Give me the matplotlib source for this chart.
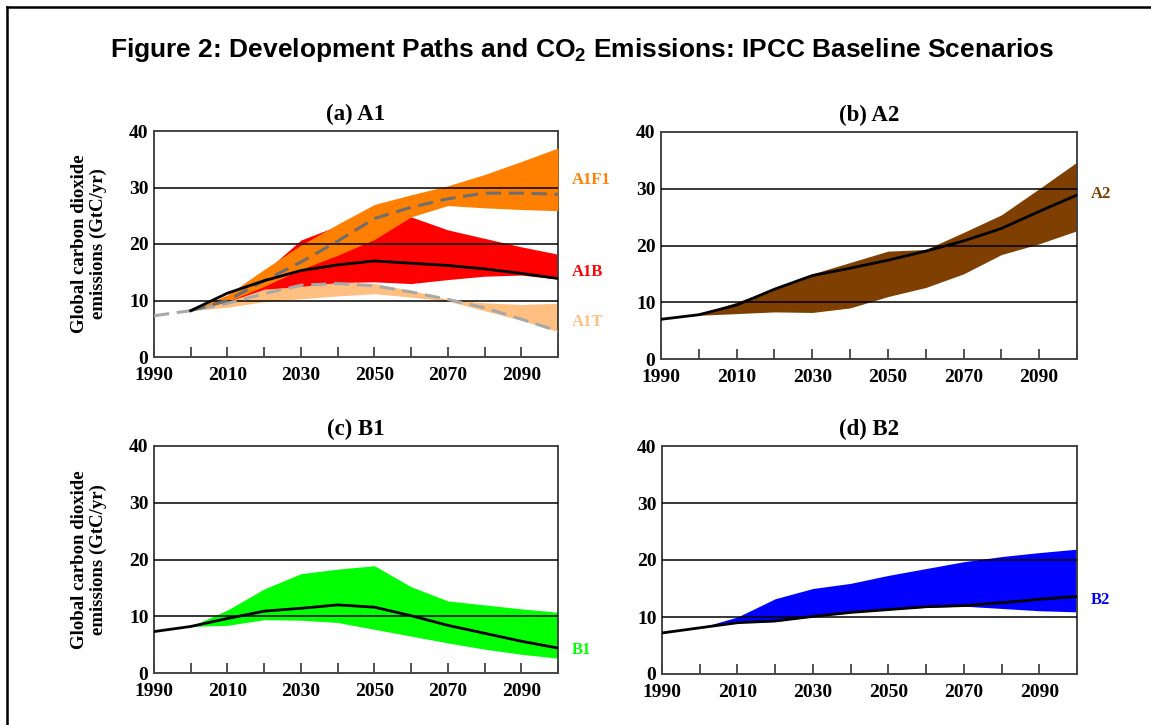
import numpy as np
import matplotlib
matplotlib.use("Agg")
import matplotlib.pyplot as plt
from matplotlib.lines import Line2D

# ---------------- data ----------------
years_line = [1990, 2000, 2010, 2020, 2030, 2040, 2050, 2060, 2070, 2080, 2090, 2100]
years_band = [2000, 2010, 2020, 2030, 2040, 2050, 2060, 2070, 2080, 2090, 2100]

# (a) A1
a1fi_upper = [8.2, 11.0, 15.5, 19.8, 23.5, 27.0, 28.7, 30.3, 32.3, 34.6, 37.0]
a1fi_lower = [8.2, 9.8, 12.5, 15.5, 18.0, 20.8, 24.8, 26.8, 26.4, 26.1, 25.9]
a1b_upper = [8.2, 10.8, 15.0, 20.7, 23.2, 25.0, 24.8, 22.5, 21.0, 19.5, 18.2]
a1b_lower = [8.2, 9.8, 12.0, 12.5, 13.2, 13.3, 13.0, 13.7, 14.3, 14.5, 13.8]
a1t_upper = [8.2, 10.0, 12.0, 13.0, 13.3, 13.0, 11.8, 10.2, 9.6, 9.3, 9.5]
a1t_lower = [8.2, 8.8, 9.8, 10.3, 10.8, 11.2, 10.6, 9.9, 8.2, 6.5, 4.5]
a1fi_line = [8.2, 10.0, 13.5, 16.8, 20.5, 24.5, 26.5, 28.0, 29.0, 29.0, 28.8]
a1t_line = [7.3, 8.2, 9.5, 11.2, 12.7, 13.0, 12.6, 11.5, 10.2, 8.7, 6.7, 4.6]
a1b_line = [8.2, 11.3, 13.5, 15.3, 16.3, 17.0, 16.6, 16.2, 15.6, 14.8, 13.9]

# (b) A2
a2_upper = [7.9, 10.0, 12.4, 15.0, 17.0, 19.0, 19.3, 22.3, 25.4, 30.0, 34.7]
a2_lower = [7.7, 8.0, 8.3, 8.2, 9.0, 11.0, 12.6, 15.0, 18.4, 20.3, 22.6]
a2_line = [7.0, 7.8, 9.5, 12.3, 14.7, 16.0, 17.4, 19.0, 20.8, 23.0, 26.0, 28.9]

# (c) B1
b1_upper = [8.2, 11.1, 14.8, 17.5, 18.3, 18.9, 15.2, 12.7, 12.0, 11.3, 10.7]
b1_lower = [8.2, 8.4, 9.4, 9.3, 8.9, 7.7, 6.5, 5.3, 4.2, 3.3, 2.6]
b1_line = [7.3, 8.2, 9.6, 10.9, 11.4, 12.0, 11.6, 10.1, 8.4, 7.0, 5.6, 4.4]

# (d) B2
b2_upper = [8.1, 10.0, 13.2, 15.0, 15.9, 17.3, 18.5, 19.7, 20.6, 21.3, 21.9]
b2_lower = [8.1, 9.0, 9.2, 10.1, 10.8, 11.3, 11.7, 11.9, 11.5, 11.1, 10.9]
b2_line = [7.2, 8.1, 9.0, 9.3, 10.1, 10.8, 11.3, 11.8, 12.0, 12.5, 13.1, 13.6]

panel_titles = ["(a) A1", "(b) A2", "(c) B1", "(d) B2"]
xtick_labels = [1990, 2010, 2030, 2050, 2070, 2090]
ytick_values = [0, 10, 20, 30, 40]
ylabel_text = "Global carbon dioxide\nemissions (GtC/yr)"
title_text = r"Figure 2: Development Paths and CO$_{\mathregular{2}}$ Emissions: IPCC Baseline Scenarios"

# ---------------- style ----------------
SERIF = "Liberation Serif"
SANS = "Liberation Sans"
plt.rcParams["mathtext.fontset"] = "custom"
plt.rcParams["mathtext.rm"] = "Liberation Sans:bold"
plt.rcParams["mathtext.bf"] = "Liberation Sans:bold"

C_A1FI = "#FF8000"
C_A1B = "#FF0000"
C_A1T = "#FFBF80"
C_A2 = "#7F3F00"
C_B1 = "#00FF00"
C_B2 = "#0000FF"

W, H = 1151, 725
fig = plt.figure(figsize=(W / 100, H / 100), dpi=100)

def rect(l, t, r, b):
    return [l / W, 1 - b / H, (r - l) / W, (b - t) / H]

axes_px = [(154, 131, 558, 357), (661, 132, 1077, 359),
           (154, 446, 558, 673), (662, 446, 1077, 674)]
axs = [fig.add_axes(rect(*p)) for p in axes_px]

def style(ax, title):
    ax.set_xlim(1990, 2100)
    ax.set_ylim(0, 40)
    ax.set_xticks(xtick_labels)
    ax.set_xticklabels([str(v) for v in xtick_labels])
    ax.set_xticks([2000, 2020, 2040, 2060, 2080, 2100], minor=True)
    ax.set_yticks(ytick_values)
    ax.set_yticklabels([str(v) for v in ytick_values])
    ax.tick_params(axis="x", which="both", direction="in", length=7, width=1.3,
                   color="#444444", pad=7)
    ax.tick_params(axis="y", length=0, pad=4)
    for lab in ax.get_xticklabels() + ax.get_yticklabels():
        lab.set_fontfamily(SERIF)
        lab.set_fontweight("bold")
        lab.set_fontsize(14)
    for sp in ax.spines.values():
        sp.set_color("#444444")
        sp.set_linewidth(1.4)
    for yv in [10, 20, 30]:
        ax.axhline(yv, color="black", lw=1.1, zorder=4)
    ax.set_title(title, fontfamily=SERIF, fontweight="bold", fontsize=16.5, pad=8)

def end_label(ax, text, y, color):
    ax.annotate(text, xy=(2100, y), xytext=(10, 0), textcoords="offset points",
                xycoords="data", color=color, fontfamily=SERIF, fontweight="bold",
                fontsize=12, va="center", ha="left", annotation_clip=False)

# (a)
ax = axs[0]
ax.fill_between(years_band, a1t_lower, a1t_upper, color=C_A1T, lw=0, zorder=1)
ax.fill_between(years_band, a1b_lower, a1b_upper, color=C_A1B, lw=0, zorder=2)
ax.fill_between(years_band, a1fi_lower, a1fi_upper, color=C_A1FI, lw=0, zorder=3)
ax.plot(years_line, a1t_line, color="#A8A8A8", lw=2.2, dashes=(5, 2.5), zorder=5)
ax.plot(years_band, a1fi_line, color="#6E6E6E", lw=2.2, dashes=(5, 2.5), zorder=5)
ax.plot(years_band, a1b_line, color="black", lw=2.0, zorder=6)
style(ax, panel_titles[0])
end_label(ax, "A1F1", 31.3, C_A1FI)
end_label(ax, "A1B", 15.0, C_A1B)
end_label(ax, "A1T", 6.2, C_A1T)

# (b)
ax = axs[1]
ax.fill_between(years_band, a2_lower, a2_upper, color=C_A2, lw=0, zorder=1)
ax.plot(years_line, a2_line, color="black", lw=2.0, zorder=6)
style(ax, panel_titles[1])
end_label(ax, "A2", 29.1, C_A2)

# (c)
ax = axs[2]
ax.fill_between(years_band, b1_lower, b1_upper, color=C_B1, lw=0, zorder=1)
ax.plot(years_line, b1_line, color="black", lw=2.0, zorder=6)
style(ax, panel_titles[2])
end_label(ax, "B1", 4.0, C_B1)

# (d)
ax = axs[3]
ax.fill_between(years_band, b2_lower, b2_upper, color=C_B2, lw=0, zorder=1)
ax.plot(years_line, b2_line, color="black", lw=2.0, zorder=6)
style(ax, panel_titles[3])
end_label(ax, "B2", 13.0, C_B2)

# y labels for left panels
for p in (axes_px[0], axes_px[2]):
    yc = (p[1] + p[3]) / 2
    fig.text(89 / W, 1 - yc / H, ylabel_text, rotation=90, ha="center", va="center",
             multialignment="center", fontfamily=SERIF, fontweight="bold",
             fontsize=13.5, linespacing=1.1)

# main title
fig.text(582 / W, 1 - 50 / H, title_text, ha="center", va="center",
         fontfamily=SANS, fontweight="bold", fontsize=19)

# frame (left and top edges)
fig.add_artist(Line2D([7.5 / W, 7.5 / W], [0, 1 - 7 / H], transform=fig.transFigure,
                      color="black", lw=1.8))
fig.add_artist(Line2D([7.5 / W, 1], [1 - 7 / H, 1 - 7 / H], transform=fig.transFigure,
                      color="black", lw=1.8))

fig.savefig("out.png", dpi=100)
